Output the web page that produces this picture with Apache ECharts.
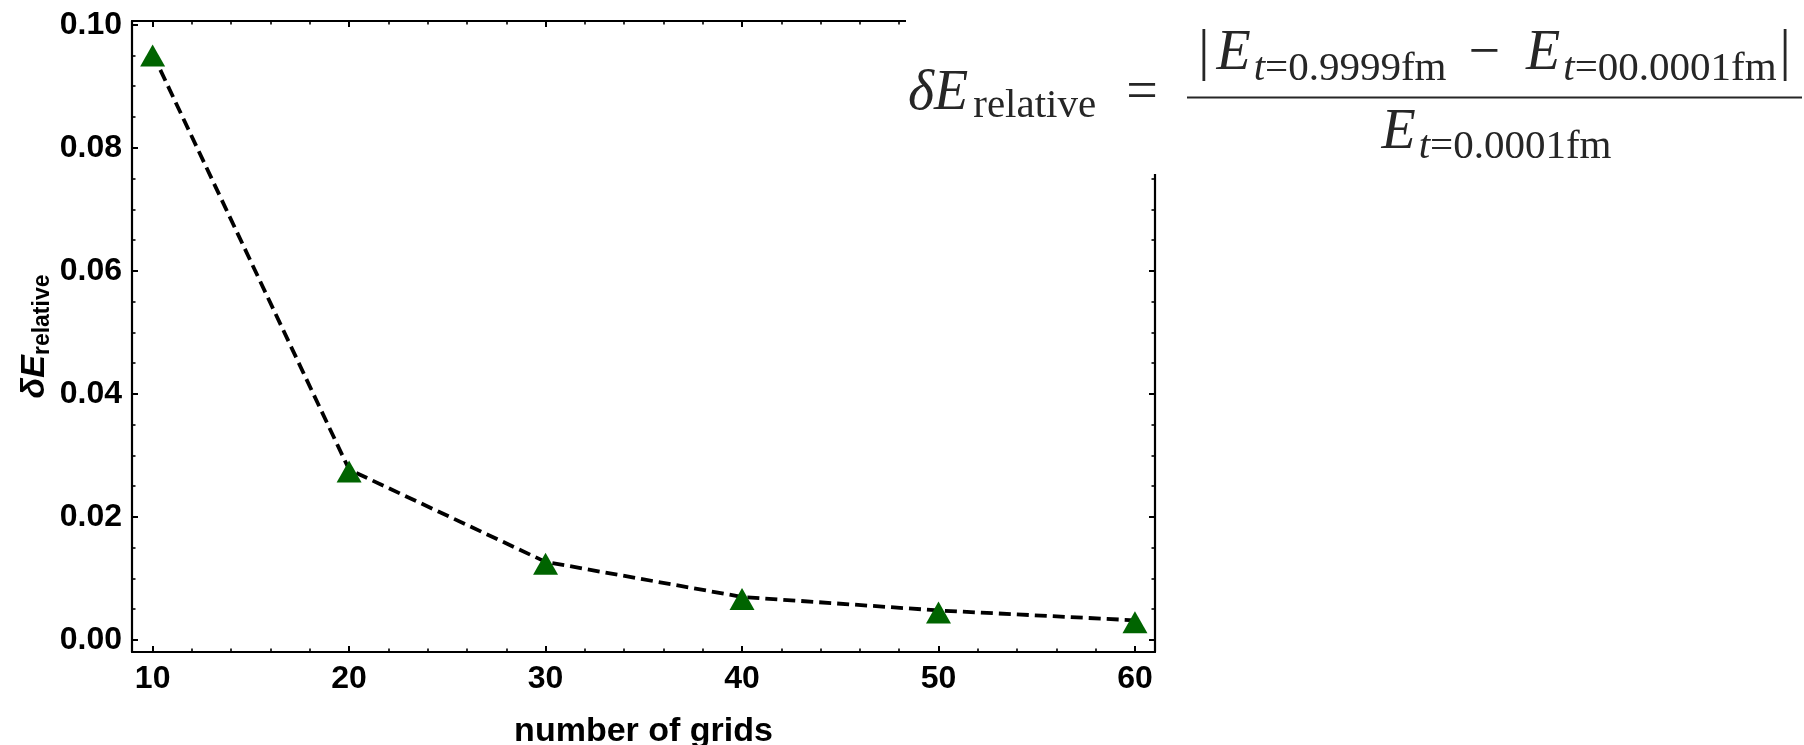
<!DOCTYPE html>
<html>
<head>
<meta charset="utf-8">
<title>Relative energy error vs number of grids</title>
<script src="https://cdn.jsdelivr.net/npm/echarts@6/dist/echarts.min.js"></script>
<style>
  html, body { margin: 0; padding: 0; background: #fff; }
  #chart { width: 1804px; height: 745px; }
</style>
</head>
<body>
<div id="chart"></div>
<script>
// Data: relative energy error for each grid resolution
const gridCounts = [10, 20, 30, 40, 50, 60];
const deltaE = [0.0953, 0.0277, 0.0127, 0.0070, 0.0048, 0.0032];

// Tick positions (major ticks carry labels)
const xMajorTicks = [10, 20, 30, 40, 50, 60];
const xMinorTicks = [12, 14, 16, 18, 22, 24, 26, 28, 32, 34, 36, 38, 42, 44, 46, 48, 52, 54, 56, 58];
const yMajorTicks = [0, 0.02, 0.04, 0.06, 0.08, 0.10];
const yMinorTicks = [0.005, 0.01, 0.015, 0.025, 0.03, 0.035, 0.045, 0.05, 0.055,
                     0.065, 0.07, 0.075, 0.085, 0.09, 0.095];

const X_RANGE = [8.95, 61.02];
const Y_RANGE = [-0.00195, 0.1006];

const LABEL_FONT = {
  color: '#000', fontFamily: 'Liberation Sans', fontWeight: 'bold', fontSize: 32
};

// Builds one frame side: a visible axis line with major ticks, or an
// overlay axis that only adds the shorter minor ticks.
function frameAxis(position, range, ticks, major, withLabels, extra) {
  return Object.assign({
    type: 'value',
    position: position,
    min: range[0],
    max: range[1],
    axisLine: { show: major, onZero: false, lineStyle: { color: '#000', width: 2.2 } },
    axisTick: {
      show: true, inside: true, customValues: ticks,
      length: major ? 6 : 3.5,
      lineStyle: { color: '#000', width: major ? 2 : 1.6 }
    },
    axisLabel: withLabels
      ? Object.assign({ show: true, customValues: ticks }, LABEL_FONT)
      : { show: false },
    splitLine: { show: false },
    silent: true
  }, extra || {});
}

const chart = echarts.init(document.getElementById('chart'), null, { renderer: 'canvas' });

const mathText = { fill: '#262626', fontFamily: 'Liberation Serif' };
function mathRich(subLineHeight) {
  return {
    bl: Object.assign({ fontSize: 56, lineHeight: 56, verticalAlign: 'top', padding: [0, 3, 0, 0] }, mathText),
    br: Object.assign({ fontSize: 56, lineHeight: 56, verticalAlign: 'top', padding: [0, 0, 0, 3] }, mathText),
    mi: Object.assign({ fontSize: 56, lineHeight: 56, verticalAlign: 'top', fontStyle: 'italic',
                        padding: [0, 5, 0, 0] }, mathText),
    E:  Object.assign({ fontSize: 56, lineHeight: 56, verticalAlign: 'top', fontStyle: 'italic',
                        padding: [0, 3, 0, 4] }, mathText),
    op: Object.assign({ fontSize: 56, lineHeight: 56, verticalAlign: 'top', padding: [0, 22, 0, 22] }, mathText),
    eq: Object.assign({ fontSize: 56, lineHeight: 56, verticalAlign: 'top', padding: [0, 0, 0, 30] }, mathText),
    s:  Object.assign({ fontSize: 41, lineHeight: subLineHeight }, mathText),
    si: Object.assign({ fontSize: 41, lineHeight: subLineHeight, fontStyle: 'italic' }, mathText)
  };
}

const option = {
  animation: false,
  backgroundColor: '#fff',
  grid: { left: 132, right: 649, top: 21, bottom: 93, containLabel: false, outerBoundsMode: 'none' },
  xAxis: [
    frameAxis('bottom', X_RANGE, xMajorTicks, true, true, {
      axisLabel: Object.assign({ show: true, customValues: xMajorTicks, margin: 11 }, LABEL_FONT),
      name: 'number of grids',
      nameLocation: 'middle',
      nameGap: 63,
      nameTextStyle: Object.assign({}, LABEL_FONT, { fontSize: 34 })
    }),
    frameAxis('bottom', X_RANGE, xMinorTicks, false, false),
    frameAxis('top', X_RANGE, xMajorTicks, true, false),
    frameAxis('top', X_RANGE, xMinorTicks, false, false)
  ],
  yAxis: [
    frameAxis('left', Y_RANGE, yMajorTicks, true, true, {
      axisLabel: Object.assign({
        show: true, customValues: yMajorTicks, margin: 10,
        formatter: v => v.toFixed(2)
      }, LABEL_FONT),
      name: '{d|δ}{e|E}{s|relative}',
      nameLocation: 'middle',
      nameRotate: 90,
      nameGap: 64,
      nameMoveOverlap: false,
      nameTextStyle: {
        rich: {
          d: { fontFamily: 'Liberation Sans', fontStyle: 'italic', fontWeight: 'bold', fontSize: 34,
               lineHeight: 34, verticalAlign: 'top', color: '#000' },
          e: { fontFamily: 'Liberation Sans', fontStyle: 'italic', fontWeight: 'bold', fontSize: 34,
               lineHeight: 34, verticalAlign: 'top', color: '#000' },
          s: { fontFamily: 'Liberation Sans', fontWeight: 'bold', fontSize: 23, lineHeight: 50,
               color: '#000' }
        }
      }
    }),
    frameAxis('left', Y_RANGE, yMinorTicks, false, false),
    frameAxis('right', Y_RANGE, yMajorTicks, true, false),
    frameAxis('right', Y_RANGE, yMinorTicks, false, false)
  ],
  series: [{
    type: 'line',
    xAxisIndex: 0,
    yAxisIndex: 0,
    data: gridCounts.map((g, i) => [g, deltaE[i]]),
    lineStyle: { color: '#000', width: 3.8, type: [12, 6] },
    symbol: 'triangle',
    symbolSize: [25, 22],
    symbolOffset: [0, 2],
    itemStyle: { color: '#006400' },
    z: 3
  }],
  graphic: [
    // white panel carrying the definition of the plotted quantity
    { type: 'rect', shape: { x: 906, y: 0, width: 898, height: 174 },
      style: { fill: '#fff' }, z: 100 },
    { type: 'text', x: 908, y: 66, z: 101,
      style: {
        text: '{mi|δE}{s|relative}{eq|=}',
        rich: mathRich(80),
        align: 'left', textAlign: 'left',
        verticalAlign: 'top', textVerticalAlign: 'top'
      } },
    { type: 'text', x: 1494.5, y: 26, z: 101,
      style: {
        text: '{bl||}{E|E}{si|t}{s|=0.9999fm}{op|−}{E|E}{si|t}{s|=00.0001fm}{br||}',
        rich: mathRich(86),
        align: 'center', textAlign: 'center',
        verticalAlign: 'top', textVerticalAlign: 'top'
      } },
    { type: 'line', shape: { x1: 1187, y1: 97.5, x2: 1802, y2: 97.5 },
      style: { stroke: '#262626', lineWidth: 2 }, z: 101 },
    { type: 'text', x: 1494.5, y: 105, z: 101,
      style: {
        text: '{E|E}{si|t}{s|=0.0001fm}',
        rich: mathRich(84),
        align: 'center', textAlign: 'center',
        verticalAlign: 'top', textVerticalAlign: 'top'
      } }
  ]
};

chart.setOption(option);
</script>
</body>
</html>
